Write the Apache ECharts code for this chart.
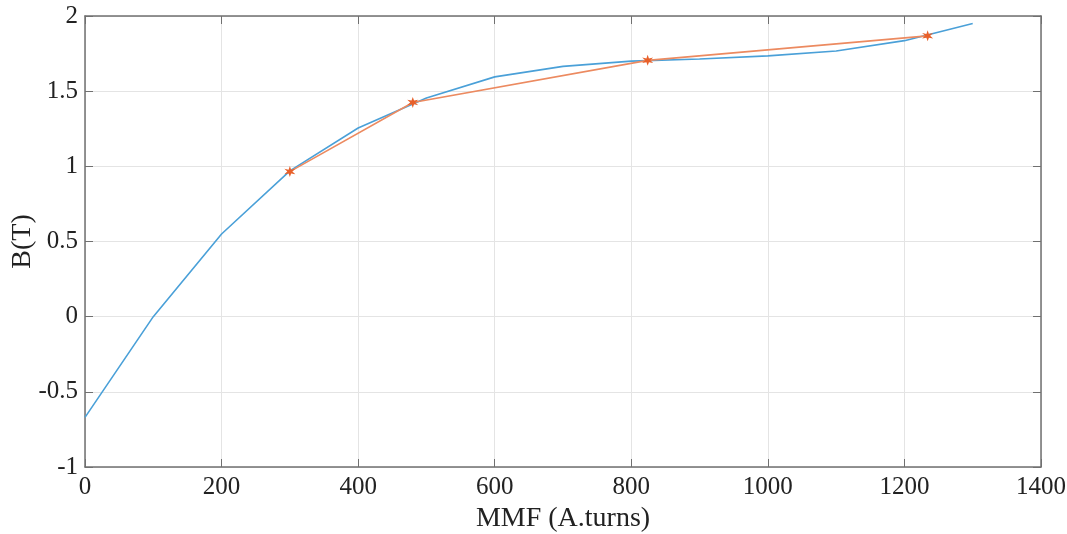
<!DOCTYPE html>
<html>
<head>
<meta charset="utf-8">
<script src="https://cdn.jsdelivr.net/npm/echarts@6/dist/echarts.min.js"></script>
<style>html,body{margin:0;padding:0;background:#fff;}#c{width:1067px;height:534px;}</style>
</head>
<body>
<div id="c"></div>
<script>
const mmfCurve = [0, 100, 200, 300, 400, 500, 600, 700, 800, 900, 1000, 1100, 1200, 1300];
const bCurve = [-0.67, 0.0, 0.55, 0.97, 1.255, 1.455, 1.595, 1.665, 1.70, 1.714, 1.735, 1.767, 1.836, 1.95];
const mmfFit = [300, 480, 824, 1234];
const bFit = [0.965, 1.425, 1.705, 1.868];
const xTicks = [0, 200, 400, 600, 800, 1000, 1200, 1400];
const yTicks = [-1, -0.5, 0, 0.5, 1, 1.5, 2];

const font = 'Liberation Serif, Times New Roman, serif';
const axisCol = '#707070';
const star = 'path://M0,-10 L2,-3.5 L8.7,-5 L4,0 L8.7,5 L2,3.5 L0,10 L-2,3.5 L-8.7,5 L-4,0 L-8.7,-5 L-2,-3.5 Z';
const plain = v => String(v);

const chart = echarts.init(document.getElementById('c'));
chart.setOption({
  animation: false,
  backgroundColor: '#fff',
  grid: {left: 85, right: 26, top: 16, bottom: 67, containLabel: false, outerBoundsMode: 'none'},
  xAxis: [{
    type: 'value', min: xTicks[0], max: xTicks[xTicks.length-1], interval: 200,
    name: 'MMF (A.turns)', nameLocation: 'middle', nameGap: 35,
    nameTextStyle: {fontFamily: font, fontSize: 28, color: '#222'},
    axisLine: {show: true, onZero: false, lineStyle: {color: axisCol, width: 1.5}},
    axisTick: {show: true, inside: true, length: 8, lineStyle: {color: axisCol}},
    axisLabel: {fontFamily: font, fontSize: 25, color: '#222', margin: 8, formatter: plain},
    splitLine: {show: true, lineStyle: {color: '#e4e4e4', width: 1}}
  }, {
    type: 'value', position: 'top', min: xTicks[0], max: xTicks[xTicks.length-1], interval: 200,
    axisLine: {show: true, onZero: false, lineStyle: {color: axisCol, width: 1.5}},
    axisTick: {show: true, inside: true, length: 8, lineStyle: {color: axisCol}},
    axisLabel: {show: false}, splitLine: {show: false}
  }],
  yAxis: [{
    type: 'value', min: yTicks[0], max: yTicks[yTicks.length-1], interval: 0.5,
    name: 'B(T)', nameLocation: 'middle', nameGap: 48, nameRotate: 90, nameMoveOverlap: false,
    nameTextStyle: {fontFamily: font, fontSize: 28, color: '#222'},
    axisLine: {show: true, onZero: false, lineStyle: {color: axisCol, width: 1.5}},
    axisTick: {show: true, inside: true, length: 8, lineStyle: {color: axisCol}},
    axisLabel: {fontFamily: font, fontSize: 25, color: '#222', margin: 7, formatter: plain},
    splitLine: {show: true, lineStyle: {color: '#e4e4e4', width: 1}}
  }, {
    type: 'value', position: 'right', min: yTicks[0], max: yTicks[yTicks.length-1], interval: 0.5,
    axisLine: {show: true, onZero: false, lineStyle: {color: axisCol, width: 1.5}},
    axisTick: {show: true, inside: true, length: 8, lineStyle: {color: axisCol}},
    axisLabel: {show: false}, splitLine: {show: false}
  }],
  series: [{
    type: 'line', xAxisIndex: 0, yAxisIndex: 0,
    data: mmfCurve.map((x, i) => [x, bCurve[i]]),
    showSymbol: false, symbol: 'none',
    lineStyle: {color: '#4aa0d8', width: 1.6}
  }, {
    type: 'line', xAxisIndex: 0, yAxisIndex: 0,
    data: mmfFit.map((x, i) => [x, bFit[i]]),
    symbol: star, symbolSize: 11, showSymbol: true,
    itemStyle: {color: '#e8602a'},
    lineStyle: {color: '#ec8a60', width: 1.6}
  }]
});
</script>
</body>
</html>
